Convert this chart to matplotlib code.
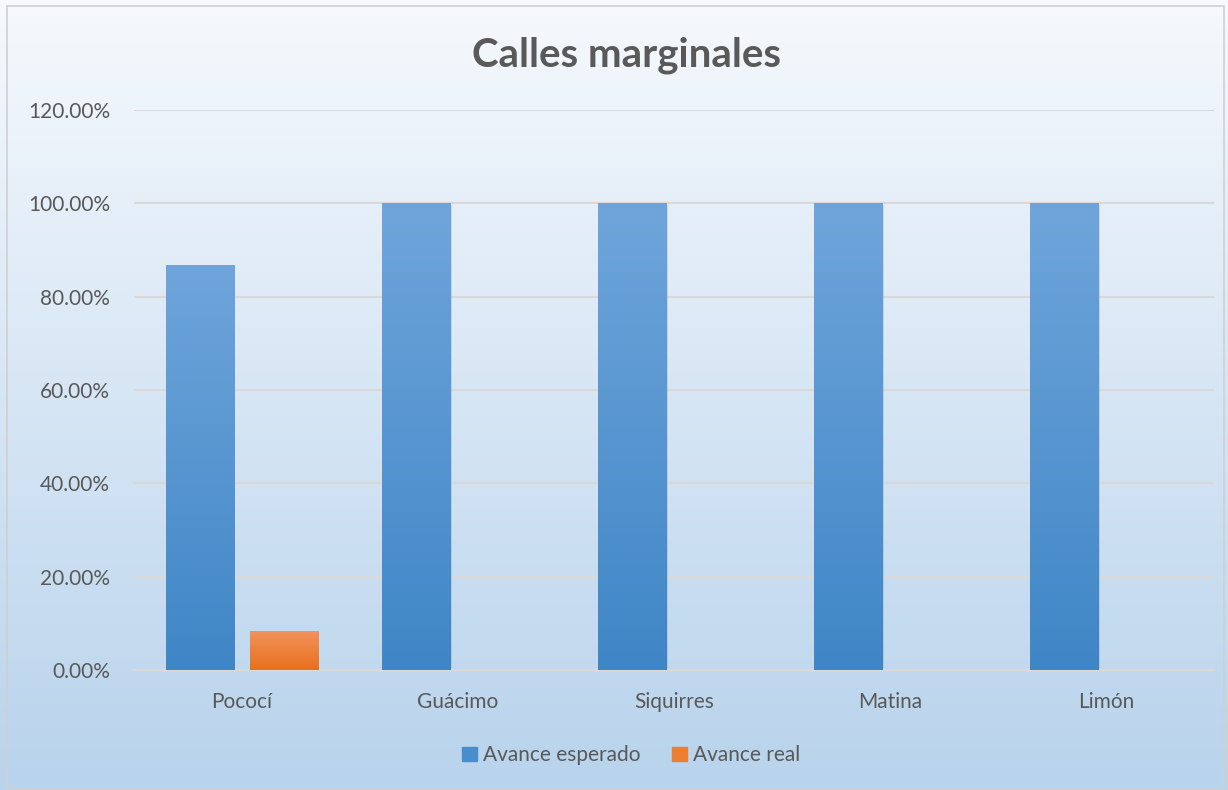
import numpy as np
import matplotlib.pyplot as plt
from matplotlib.patches import Rectangle

plt.rcParams['font.family'] = ['Lato', 'DejaVu Sans']

cantones = ["Pococí", "Guácimo", "Siquirres", "Matina", "Limón"]
avance_esperado = [0.868, 1.0, 1.0, 1.0, 1.0]
avance_real = [0.084, 0.0, 0.0, 0.0, 0.0]
yticks = [0, 0.2, 0.4, 0.6, 0.8, 1.0, 1.2]

fig = plt.figure(figsize=(12.28, 7.9), dpi=100)

# fondo degradado de toda la figura
bg = fig.add_axes([0, 0, 1, 1], zorder=-10)
grad = np.linspace(0, 1, 256).reshape(-1, 1)
bg_cmap = plt.matplotlib.colors.LinearSegmentedColormap.from_list("bg", ["#f6f9fd", "#b8d3ec"])
bg.imshow(grad, aspect="auto", cmap=bg_cmap, extent=[0, 1, 0, 1], origin="upper")
bg.add_patch(Rectangle((0.006, 0.003), 0.991, 0.99, fill=False, edgecolor="#d0d0d0", lw=1.2))
bg.set_xlim(0, 1)
bg.set_ylim(0, 1)
bg.axis("off")

ax = fig.add_axes([0.109, 0.152, 0.8796, 0.709])
ax.patch.set_alpha(0)

x = np.arange(len(cantones))
w = 0.315
off = 0.193

blue = plt.matplotlib.colors.LinearSegmentedColormap.from_list("b", ["#3f86c6", "#6fa5db"])
orange = plt.matplotlib.colors.LinearSegmentedColormap.from_list("o", ["#e8701e", "#f2935c"])

def gradient_bars(xs, vals, cmap):
    bars = ax.bar(xs, vals, w, color="none", edgecolor="none", zorder=3)
    for b in bars:
        h = b.get_height()
        if h <= 0:
            continue
        x0 = b.get_x()
        # sombra suave
        ax.add_patch(Rectangle((x0 + 0.006, 0), w, h - 0.004, color="#5a6f85",
                               alpha=0.18, zorder=2, lw=0))
        im = ax.imshow(np.linspace(0, 1, 256).reshape(-1, 1), cmap=cmap, aspect="auto",
                       extent=[x0, x0 + w, 0, h], origin="lower", zorder=3)
        im.set_clip_path(b)
    return bars

gradient_bars(x - off, avance_esperado, blue)
gradient_bars(x + off, avance_real, orange)

ax.set_xlim(-0.5, len(cantones) - 0.5)
ax.set_ylim(0, 1.2)
ax.set_yticks(yticks)
ax.set_yticklabels([f"{v * 100:.2f}%" for v in yticks])
ax.set_xticks(x)
ax.set_xticklabels(cantones)
ax.tick_params(length=0, labelsize=15, labelcolor="#595959")
ax.tick_params(axis="x", pad=16)
ax.tick_params(axis="y", pad=17)
ax.yaxis.grid(True, color="#d9d9d9", lw=1.5, zorder=1)
ax.set_axisbelow(True)
for s in ["top", "right", "left"]:
    ax.spines[s].set_visible(False)
ax.spines["bottom"].set_color("#d9d9d9")
ax.spines["bottom"].set_linewidth(1.5)

fig.text(0.51, 0.93, "Calles marginales", ha="center", va="center",
         fontsize=29, fontweight="bold", color="#595959")

handles = [Rectangle((0, 0), 1, 1, color="#4a8dcd"), Rectangle((0, 0), 1, 1, color="#ed7d31")]
fig.legend(handles, ["Avance esperado", "Avance real"], loc="center", bbox_to_anchor=(0.514, 0.044),
           ncol=2, frameon=False, fontsize=15, labelcolor="#595959", handlelength=0.7,
           handleheight=0.7, handletextpad=0.3, columnspacing=1.5)

fig.savefig("out.png", dpi=100)
